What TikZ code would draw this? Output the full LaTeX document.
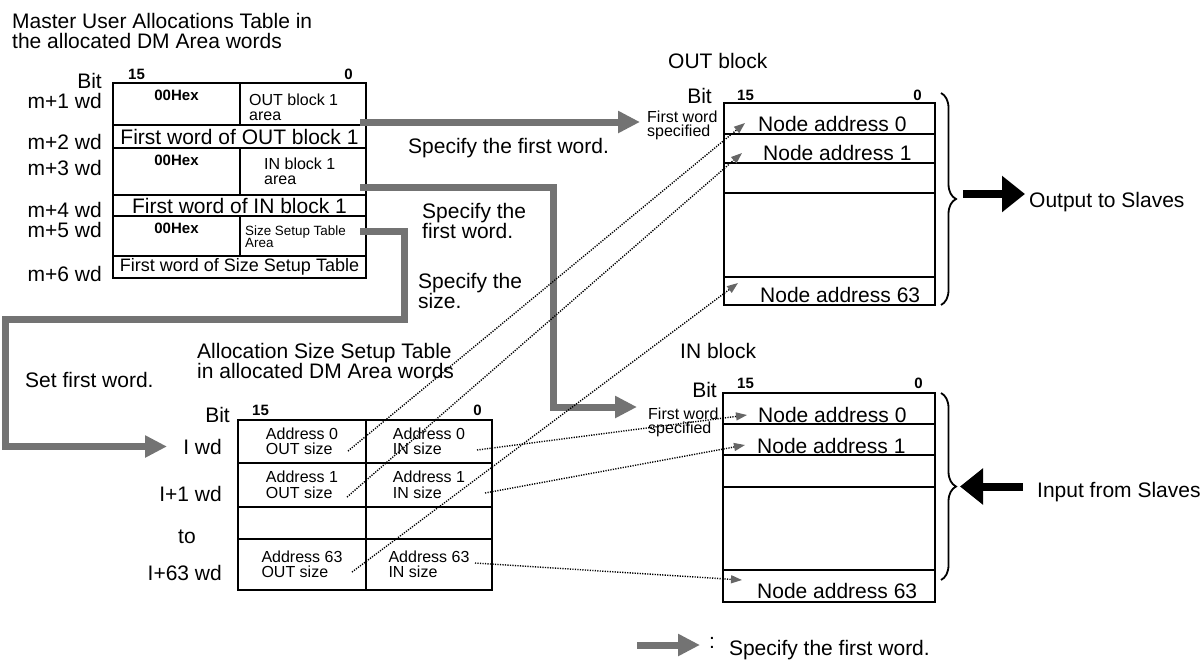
\documentclass[tikz,border=0pt]{standalone}
\usepackage{fontspec}
\setmainfont{Liberation Sans}
\usetikzlibrary{arrows.meta,calc,decorations.pathreplacing}
\definecolor{fwgrey}{gray}{0.45}
\definecolor{tipgrey}{gray}{0.4}
\tikzset{
  cell/.style      = {draw, line width=1.8pt, anchor=north west, inner sep=0pt, outer sep=0pt},
  big/.style       = {font=\fontsize{21}{20}\selectfont, inner sep=0pt},
  small/.style     = {font=\fontsize{16}{15.5}\selectfont, inner sep=0pt, align=left},
  hex/.style       = {font=\fontsize{15}{15}\selectfont\bfseries, inner sep=0pt},
  firstword/.style = {draw=fwgrey, line width=7pt, -{Triangle[length=22pt,width=21pt]}},
  ptr/.style       = {line width=1.4pt, dash pattern=on 1.2pt off 1.3pt,
                      -{Triangle[length=11pt,width=8pt,color=tipgrey]}},
  slave/.style     = {line width=8pt, -{Triangle[length=23pt,width=35pt]}},
  brc/.style       = {line width=1.8pt, decorate, decoration={brace, amplitude=15pt}},
}

\begin{document}
\begin{tikzpicture}[x=1pt, y=-1pt]
  \useasboundingbox (0,0) rectangle (1202,659);

  % master user allocations table
  \node[big, align=left, anchor=north west] (mtitle) at (12,13) {Master User Allocations Table in\\the allocated DM Area words};
  \node[big, anchor=base east] (mbit) at (102,88) {Bit};
  \node[hex, anchor=base west] (m15) at (128,79) {15};
  \node[hex, anchor=base east] (m0) at (353,79) {0};
  \foreach \n/\y/\h in {m1/83/42, m3/148/47, m5/216/40} {
    \node[cell, minimum width=127, minimum height=\h] (\n l) at (113,\y) {};
    \node[cell, minimum width=126, minimum height=\h] (\n r) at (240,\y) {};
    \node[hex, anchor=base] (\n hex) at ($(\n l.north)+(0,17)$) {00Hex};
  }
  \foreach \n/\y/\h/\f/\t in {m2/125/23/21/First word of OUT block 1, m4/195/21/21/First word of IN block 1,
                              m6/256/22/18/First word of Size Setup Table}
    \node[cell, minimum width=253, minimum height=\h, font=\fontsize{\f}{\f}\selectfont] (\n) at (113,\y) {\t};
  \node[small, anchor=north west, font=\fontsize{16}{15}\selectfont] (m1txt) at (249,94) {OUT block 1\\area};
  \node[small, anchor=north west, font=\fontsize{16}{15}\selectfont] (m3txt) at (264,158) {IN block 1\\area};
  \node[small, anchor=north west, font=\fontsize{13.4}{12}\selectfont] (m5txt) at (245,226) {Size Setup Table\\Area};
  \foreach \i/\y in {1/108, 2/149, 3/175, 4/217, 5/237, 6/281}
    \node[big, anchor=base east] (mw\i) at (102,\y) {m+\i\ wd};

  % OUT block
  \node[big, anchor=base west] (otitle) at (668,68) {OUT block};
  \node[big, anchor=base east] (obit) at (712,103) {Bit};
  \node[hex, anchor=base west] (o15) at (737,100) {15};
  \node[hex, anchor=base east] (o0n) at (922,100) {0};
  \node[small, anchor=north west, font=\fontsize{16}{14}\selectfont] (fwout) at (647,111) {First word\\specified};
  \foreach \n/\y/\h in {o0/103/31, o1/134/29, o2/163/30, o3/193/84, o63/277/28}
    \node[cell, minimum width=211, minimum height=\h] (\n) at (724,\y) {};

  % IN block
  \node[big, anchor=base west] (ititle) at (680,358) {IN block};
  \node[big, anchor=base east] (ibit) at (717,397) {Bit};
  \node[hex, anchor=base west] (i15) at (737,388) {15};
  \node[hex, anchor=base east] (i0n) at (923,388) {0};
  \node[small, anchor=north west, font=\fontsize{16}{14}\selectfont] (fwin) at (648,408) {First word\\specified};
  \foreach \n/\y/\h in {i0/393/31, i1/424/31, i2/455/32, i3/487/83, i63/570/32}
    \node[cell, minimum width=212, minimum height=\h] (\n) at (723,\y) {};

  \foreach \n/\x/\y/\k in {o0/758/131/0, o1/763/160/1, o63/760/302/63, i0/758/422/0, i1/757/453/1, i63/757/598/63}
    \node[big, anchor=base west] (\n t) at (\x,\y) {Node address \k};

  % allocation size setup table
  \node[big, align=left, anchor=north west] (stitle) at (197,343) {Allocation Size Setup Table\\in allocated DM Area words};
  \node[big, anchor=base west] (setfw) at (25,387) {Set first word.};
  \node[big, anchor=base east] (sbit) at (230,422) {Bit};
  \node[hex, anchor=base west] (s15) at (252,415) {15};
  \node[hex, anchor=base east] (s0n) at (482,415) {0};
  \foreach \n/\y/\h in {a0/420/43, a1/463/44, a2/507/32, a63/539/51} {
    \node[cell, minimum width=128, minimum height=\h] (\n o) at (238,\y) {};
    \node[cell, minimum width=126, minimum height=\h] (\n i) at (366,\y) {};
  }
  \foreach \n/\k in {a0/0, a1/1, a63/63} {
    \node[small] (\n ot) at (\n o) {Address \k\\OUT size};
    \node[small] (\n it) at (\n i) {Address \k\\IN size};
  }
  \node[big, anchor=base east] (sw0) at (222,454) {I wd};
  \node[big, anchor=base east] (sw1) at (222,501) {I+1 wd};
  \node[big, anchor=base] (swto) at (187,543) {to};
  \node[big, anchor=base east] (sw63) at (222,580) {I+63 wd};

  % texts beside the grey arrows
  \node[big, anchor=base west] (spec1) at (408,153) {Specify the first word.};
  \node[big, align=left, anchor=north west] (spec2) at (422,203) {Specify the\\first word.};
  \node[big, align=left, anchor=north west] (spec3) at (418,273) {Specify the\\size.};

  % grey arrows
  \draw[firstword, shorten >=7pt] ($(m1r.south east)+(-6,-3)$) coordinate (a1) -- (a1 -| fwout.west);
  \draw[firstword] ($(m3r.south east)+(-6,-8)$) -| ($(i0.north west)+(-170,14)$) -- ($(i0.north west)+(-86,14)$);
  \draw[firstword] ($(m5r.south east)+(-6,-25)$) -- ++(44,0) |- ($(a0o.west)+(-233,-122)$) |- ($(a0o.west)+(-71,5)$);

  % dotted pointers
  \draw[ptr] ($(a0o.south east)+(-18,-12)$) -- ($(o0.south west)+(21,-11)$);
  \draw[ptr] ($(a1o.south east)+(-19,-10)$) -- ($(o1.south west)+(18,-10)$);
  \draw[ptr] ($(a63o.south east)+(-14,-18)$) -- ($(o63.north west)+(14,6)$);
  \draw[ptr] ($(a0i.south east)+(-15,-13)$) -- ($(i0.west)+(24,6.5)$);
  \draw[ptr] ($(a1i.south east)+(-7,-14)$) -- ($(i1.west)+(22,5.5)$);
  \draw[ptr] ($(a63i.east)+(-17,-1.5)$) -- ($(i63.north west)+(19,10)$);

  % braces and slave arrows
  \draw[brc] ($(o0.north east)+(6,-10)$) -- ($(o63.south east)+(6,0)$);
  \path ($(o0.north east)+(6,-10)$) -- ($(o63.south east)+(6,0)$) coordinate[midway] (obr);
  \draw[brc] ($(i0.north east)+(6,0)$) -- ($(i63.north east)+(6,10)$);
  \path ($(i0.north east)+(6,0)$) -- ($(i63.north east)+(6,10)$) coordinate[midway] (ibr);
  \node[big, anchor=base west] (outtxt) at (1029,207) {Output to Slaves};
  \node[big, anchor=base west] (intxt) at (1037,497) {Input from Slaves};
  \draw[slave] ($(obr)+(22,-5)$) -- ($(outtxt.west |- obr)+(-4,-5)$);
  \draw[slave] ($(intxt.west |- ibr)+(-14,0)$) -- ($(ibr)+(19,0)$);

  % legend
  \node[big, anchor=base west] (legend) at (709,655) {\raisebox{7pt}{:}\hspace{14pt}Specify the first word.};
  \draw[firstword] ($(legend.base west)+(-72,-10)$) -- ($(legend.base west)+(-9,-10)$);
\end{tikzpicture}
\end{document}
